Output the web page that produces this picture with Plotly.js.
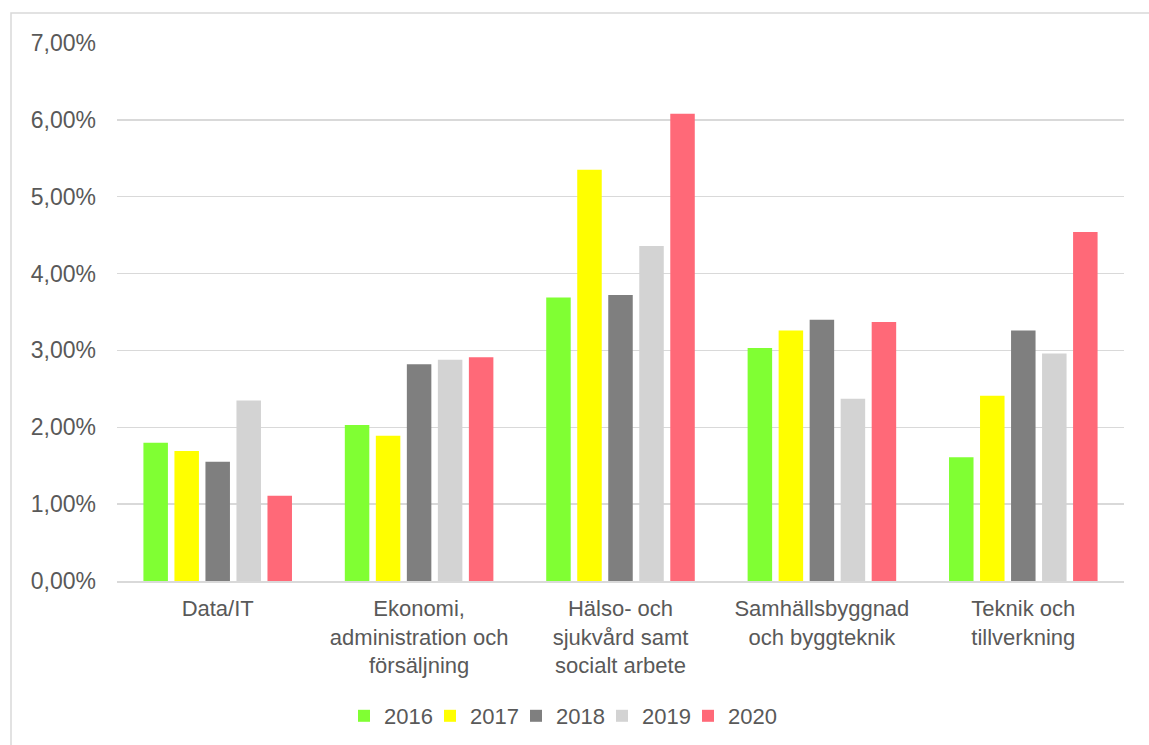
<!DOCTYPE html>
<html>
<head>
<meta charset="utf-8">
<script src="https://cdn.plot.ly/plotly-3.0.1.min.js"></script>
<style>html,body{margin:0;padding:0;background:#fff;}#chart{width:1149px;height:745px;}</style>
</head>
<body>
<div id="chart"></div>
<script>
const categories = [
  "Data/IT",
  "Ekonomi,<br>administration och<br>försäljning",
  "Hälso- och<br>sjukvård samt<br>socialt arbete",
  "Samhällsbyggnad<br>och byggteknik",
  "Teknik och<br>tillverkning"
];
const years = ["2016", "2017", "2018", "2019", "2020"];
const v2016 = [1.80, 2.03, 3.69, 3.03, 1.61];
const v2017 = [1.69, 1.89, 5.35, 3.26, 2.41];
const v2018 = [1.55, 2.82, 3.72, 3.40, 3.26];
const v2019 = [2.35, 2.88, 4.36, 2.37, 2.96];
const v2020 = [1.11, 2.91, 6.08, 3.37, 4.54];
const colors = ["#80FF33", "#FFFF00", "#7F7F7F", "#D3D3D3", "#FF6978"];
const series = [v2016, v2017, v2018, v2019, v2020];

const traces = series.map((vals, i) => ({
  type: "bar",
  name: years[i],
  x: categories,
  y: vals,
  marker: {color: colors[i], line: {width: 0}},
  hoverinfo: "skip"
}));

const font = {family: "Liberation Sans, Arial, sans-serif", size: 22, color: "#595959"};

const L = 117, R = 1124, T = 43, B = 581;
const px = x => (x - L) / (R - L);
const py = y => (B - y) / (B - T);

const layout = {
  width: 1149, height: 745,
  margin: {l: L, r: 1149 - R, t: T, b: 745 - B, pad: 0, autoexpand: false},
  paper_bgcolor: "#ffffff",
  plot_bgcolor: "#ffffff",
  font: font,
  separators: ", ",
  barmode: "group",
  bargap: 0.23,
  bargroupgap: 0.21,
  showlegend: true,
  legend: {
    orientation: "h",
    x: px(559), xanchor: "center",
    y: py(716), yanchor: "middle",
    font: font,
    itemwidth: 30,
    entrywidth: 41,
    entrywidthmode: "pixels",
    traceorder: "normal"
  },
  xaxis: {
    type: "category",
    automargin: false,
    showgrid: false,
    showline: true,
    linecolor: "#D9D9D9",
    linewidth: 1.5,
    ticks: "",
    tickfont: font,
    ticklabelstandoff: 7,
    fixedrange: true
  },
  yaxis: {
    range: [0, 7],
    automargin: false,
    dtick: 1,
    tick0: 0,
    tickformat: ".2f",
    ticksuffix: "%",
    showgrid: true,
    gridcolor: "#D9D9D9",
    gridwidth: 1.5,
    zeroline: false,
    showline: false,
    ticks: "",
    tickfont: Object.assign({}, font, {size: 23}),
    ticklabelstandoff: 20,
    fixedrange: true
  },
  shapes: [{
    type: "rect", xref: "paper", yref: "paper",
    x0: px(11), x1: px(1170), y0: py(770), y1: py(13),
    line: {color: "#D9D9D9", width: 1.5},
    fillcolor: "rgba(0,0,0,0)",
    layer: "below"
  }]
};

Plotly.newPlot("chart", traces, layout, {displayModeBar: false, staticPlot: true}).then(gd => {
  gd.querySelectorAll(".legend .scrollbox, .legend").forEach(el => el.removeAttribute("clip-path"));
});
</script>
</body>
</html>
